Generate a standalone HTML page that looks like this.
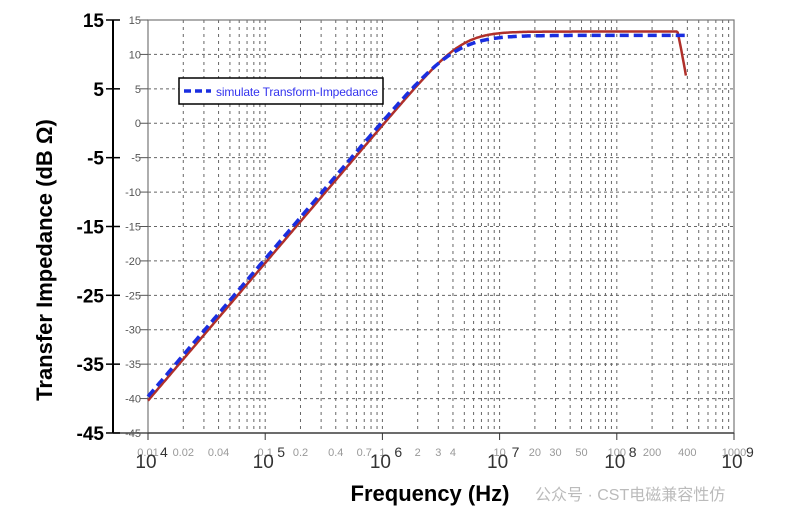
<!DOCTYPE html>
<html><head><meta charset="utf-8"><style>
body{margin:0;background:#fff;}
svg text{font-family:"Liberation Sans","Noto Sans CJK SC",sans-serif;}
</style></head><body>
<svg id="s" width="802" height="525" xmlns="http://www.w3.org/2000/svg">
<rect width="802" height="525" fill="#fff"/>
<g id="grid"></g>
<rect x="148" y="20" width="586" height="413" fill="none" stroke="#777" stroke-width="1.2"/>
<line x1="113" y1="20" x2="113" y2="433" stroke="#000" stroke-width="2"/>
<line x1="113" y1="433" x2="734" y2="433" stroke="#444" stroke-width="1.5"/>
<g id="lab"></g>
<path id="red" fill="none" stroke="#b0302a" stroke-width="2.5"/>
<path id="blue" fill="none" stroke="#1a2ee0" stroke-width="3.5" stroke-dasharray="9,5"/>
<rect x="179" y="78" width="204" height="26" fill="#fff" stroke="#000" stroke-width="1.5"/>
<line x1="184" y1="91" x2="211" y2="91" stroke="#1a2ee0" stroke-width="3.5" stroke-dasharray="7,4"/>
<text x="216" y="96" font-size="12" fill="#3333ee" textLength="162">simulate Transform-Impedance</text>
<text transform="translate(52,260) rotate(-90)" text-anchor="middle" font-size="22" font-weight="bold">Transfer Impedance (dB Ω)</text>
<text x="430" y="501" text-anchor="middle" font-size="22" font-weight="bold">Frequency (Hz)</text>
<text x="535" y="500" font-size="16" fill="#bbb">公众号 · CST电磁兼容性仿</text>
</svg>
<script>
const X=f=>148+(Math.log10(f)-4)*117.2, Y=d=>20+(15-d)*6.883;
const NS="http://www.w3.org/2000/svg";
function el(p,t,a,txt){const e=document.createElementNS(NS,t);for(const k in a)e.setAttribute(k,a[k]);if(txt!==undefined)e.textContent=txt;document.getElementById(p).appendChild(e);}
for(let dec=4;dec<9;dec++)for(let m=1;m<10;m++){const x=X(m*10**dec);if(m>1||dec>4)el("grid","line",{x1:x,y1:20,x2:x,y2:433,stroke:"#666","stroke-width":1,"stroke-dasharray":"3,4"});}
for(let d=-40;d<15;d+=5){const y=Y(d);el("grid","line",{x1:148,y1:y,x2:734,y2:y,stroke:"#666","stroke-width":1,"stroke-dasharray":"3,3"});}
for(let d=-45;d<=15;d+=5){const y=Y(d);el("lab","text",{x:141,y:y+4,"text-anchor":"end","font-size":11,fill:"#555"},String(d));el("lab","line",{x1:140,y1:y,x2:148,y2:y,stroke:"#555"});}
for(let d=-45;d<=15;d+=10){const y=Y(d);el("lab","text",{x:104,y:y+7,"text-anchor":"end","font-size":19,"font-weight":"bold"},String(d));el("lab","line",{x1:106,y1:y,x2:120,y2:y,stroke:"#000","stroke-width":1.5});}
const tl=[[0.01,1e4],[0.02,2e4],[0.04,4e4],[0.1,1e5],[0.2,2e5],[0.4,4e5],[0.7,7e5],[1,1e6],[2,2e6],[3,3e6],[4,4e6],[10,1e7],[20,2e7],[30,3e7],[50,5e7],[100,1e8],[200,2e8],[400,4e8],[1000,1e9]];
tl.forEach(([s,f])=>el("lab","text",{x:X(f),y:456,"text-anchor":"middle","font-size":11,fill:"#999"},String(s)));
for(let e=4;e<=9;e++){const x=X(10**e);el("lab","text",{x:x-2,y:468,"text-anchor":"middle","font-size":19,fill:"#333"},"10");el("lab","text",{x:x+12,y:457,"font-size":14,fill:"#333"},String(e));el("lab","line",{x1:x,y1:433,x2:x,y2:440,stroke:"#333"});}
function curve(fc,n,off,cut){let p="";for(let l=4;l<=8.62;l+=0.01){const f=10**l;let d=-40.3+off+20*Math.log10(f/1e4)-10/n*Math.log10(1+(f/fc)**(2*n));if(cut&&f>3.3e8)d-=(f-3.3e8)/6e7*6.5;if(f>3.95e8)break;p+=(p?"L":"M")+X(f).toFixed(1)+","+Y(d).toFixed(1);}return p;}
document.getElementById("red").setAttribute("d",curve(4.8e6,1.6,0,true));
document.getElementById("blue").setAttribute("d",curve(4.2e6,1.3,0.6,false));
</script>
</body></html>
